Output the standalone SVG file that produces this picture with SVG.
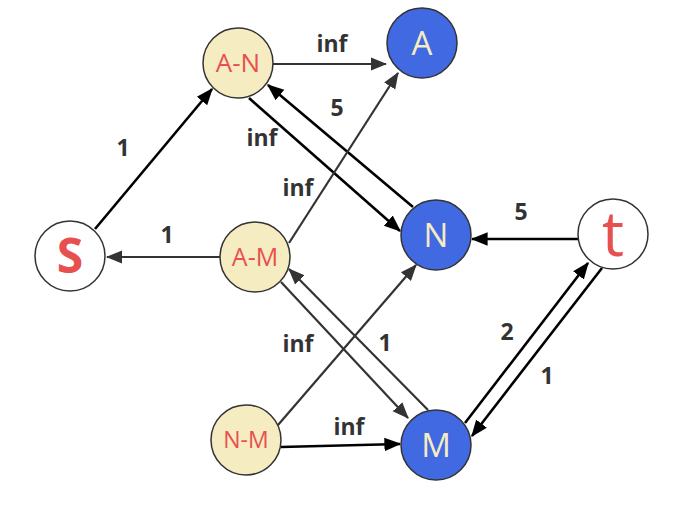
<svg xmlns="http://www.w3.org/2000/svg" width="700" height="513" viewBox="0 0 700 513">
<style>
.bk{stroke:#000;stroke-width:2.6;fill:none;marker-end:url(#ab)}
.gr{stroke:#333;stroke-width:2.2;fill:none;marker-end:url(#ag)}
.lb{font-family:"Open Sans","Noto Sans",sans-serif;font-weight:bold;font-size:23px;fill:#333;text-anchor:middle}
.cream{fill:#f5ecc2;stroke:#333;stroke-width:1.5}
.blue{fill:#4169e1;stroke:#333;stroke-width:1.5}
.white{fill:#fff;stroke:#333;stroke-width:1.5}
.nt{font-family:"Open Sans","Noto Sans",sans-serif;text-anchor:middle}
.rt{fill:#e85050}
.ct{fill:#f5ecc2}
</style>
<defs>
<marker id="ab" markerWidth="6.5" markerHeight="6" refX="6" refY="3" orient="auto" markerUnits="strokeWidth" viewBox="0 0 6.5 6"><path d="M0,0.4 L6.5,3 L0,5.6 z" fill="#000"/></marker>
<marker id="ag" markerWidth="7.5" markerHeight="7" refX="7" refY="3.5" orient="auto" markerUnits="strokeWidth" viewBox="0 0 7.5 7"><path d="M0,0.5 L7.5,3.5 L0,6.5 z" fill="#333"/></marker>
</defs>
<rect width="700" height="513" fill="#fff"/>
<g id="edges">
<line class="bk" x1="95" y1="229" x2="212" y2="89"/>
<line class="gr" x1="220" y1="257" x2="107" y2="257"/>
<line class="gr" x1="273" y1="64" x2="386" y2="64"/>
<line class="bk" x1="249" y1="98" x2="400" y2="231"/>
<line class="bk" x1="413" y1="207" x2="268" y2="85"/>
<line class="gr" x1="289" y1="243" x2="398" y2="73"/>
<line class="gr" x1="281" y1="282" x2="408" y2="418"/>
<line class="gr" x1="428" y1="410" x2="289" y2="269"/>
<line class="gr" x1="278" y1="425" x2="416" y2="265"/>
<line class="bk" x1="281" y1="447" x2="400" y2="444"/>
<line class="bk" x1="578" y1="239" x2="472" y2="239"/>
<line class="bk" x1="465" y1="423" x2="588" y2="263"/>
<line class="bk" x1="602" y1="268" x2="472" y2="436"/>
</g>
<g id="labels">
<text class="lb" x="123" y="156">1</text>
<text class="lb" x="167" y="243">1</text>
<text class="lb" x="332" y="52">inf</text>
<text class="lb" x="337" y="116">5</text>
<text class="lb" x="262" y="146">inf</text>
<text class="lb" x="298" y="196">inf</text>
<text class="lb" x="521" y="220">5</text>
<text class="lb" x="298" y="352">inf</text>
<text class="lb" x="385" y="351">1</text>
<text class="lb" x="349" y="435">inf</text>
<text class="lb" x="507" y="340">2</text>
<text class="lb" x="547" y="384">1</text>
</g>
<g id="node-s"><circle class="white" cx="70" cy="256" r="35"/><text class="nt rt" x="70" y="273" font-size="48" font-weight="bold">S</text></g>
<g id="node-an"><circle class="cream" cx="238" cy="63" r="35"/><text class="nt rt" x="238" y="72" font-size="26">A-N</text></g>
<g id="node-a"><circle class="blue" cx="422" cy="43" r="35"/><text class="nt ct" x="422" y="55" font-size="33">A</text></g>
<g id="node-n"><circle class="blue" cx="436" cy="235" r="35"/><text class="nt ct" x="436" y="247" font-size="33">N</text></g>
<g id="node-am"><circle class="cream" cx="255" cy="257" r="35"/><text class="nt rt" x="255" y="266" font-size="25">A-M</text></g>
<g id="node-nm"><circle class="cream" cx="246" cy="440" r="35"/><text class="nt rt" x="246" y="448" font-size="23">N-M</text></g>
<g id="node-m"><circle class="blue" cx="436" cy="445" r="35"/><text class="nt ct" x="436" y="457" font-size="33">M</text></g>
<g id="node-t"><circle class="white" cx="613" cy="234" r="35"/><text class="nt rt" x="613" y="256" font-size="62">t</text></g>
</svg>
